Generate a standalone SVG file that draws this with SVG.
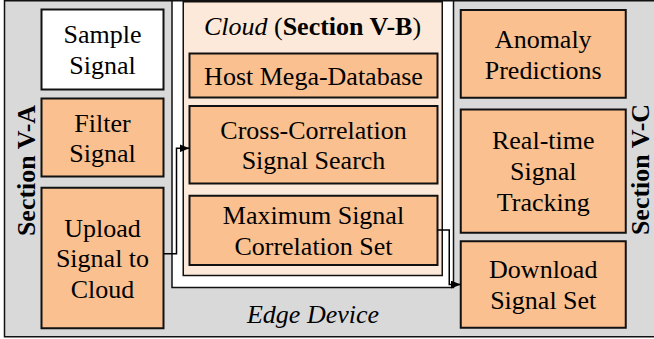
<svg xmlns="http://www.w3.org/2000/svg" width="654" height="339" viewBox="0 0 654 339">
<defs>
<style>
.t{font-family:"Liberation Serif","Times New Roman",serif;font-size:26px;fill:#000;text-anchor:middle}
.box{fill:#fac090;stroke:#111;stroke-width:2}
.panel{stroke:#111;stroke-width:1.5}
.conn{fill:none;stroke:#000;stroke-width:1.5}
</style>
<marker id="ah" markerWidth="10" markerHeight="8" refX="10" refY="4" orient="auto" markerUnits="userSpaceOnUse">
<path d="M0,0 L10,4 L0,8 Z" fill="#000"/>
</marker>
</defs>
<g id="edge-device">
<rect class="panel" x="4.5" y="0.75" width="660" height="336" fill="#d9d9d9"/>
<rect class="panel" x="172" y="0.75" width="281.5" height="286.75" fill="#fff"/>
<text class="t" x="313" y="322.5" font-style="italic">Edge Device</text>
<text class="t" font-weight="bold" transform="translate(35,170.5) rotate(-90)">Section V-A</text>
<text class="t" font-weight="bold" transform="translate(649,169.5) rotate(-90)">Section V-C</text>
</g>
<g id="cloud">
<rect class="panel" x="183.25" y="1.75" width="259" height="273.75" fill="#fde9d9"/>
<text class="t" x="312.5" y="35"><tspan font-style="italic">Cloud</tspan> (<tspan font-weight="bold">Section V-B</tspan>)</text>
</g>
<g id="sample-signal">
<rect x="41.5" y="9.5" width="122" height="80" fill="#fff" stroke="#111" stroke-width="2"/>
<text class="t" x="102.5" y="43.3">Sample</text>
<text class="t" x="102.5" y="74.1">Signal</text>
</g>
<g id="filter-signal">
<rect class="box" x="41.5" y="98.5" width="122" height="78"/>
<text class="t" x="102.5" y="131.5">Filter</text>
<text class="t" x="102.5" y="162.3">Signal</text>
</g>
<g id="upload-signal">
<rect class="box" x="41.5" y="187.75" width="122" height="140.5"/>
<text class="t" x="102.5" y="236.5">Upload</text>
<text class="t" x="102.5" y="267.3">Signal to</text>
<text class="t" x="102.5" y="298.2">Cloud</text>
</g>
<g id="host-mega-database">
<rect class="box" x="189.5" y="53.5" width="248" height="44"/>
<text class="t" x="313.5" y="85">Host Mega-Database</text>
</g>
<g id="cross-correlation">
<rect class="box" x="189.5" y="106" width="248" height="77.5"/>
<text class="t" x="313.5" y="138.5">Cross-Correlation</text>
<text class="t" x="313.5" y="169.3">Signal Search</text>
</g>
<g id="max-correlation-set">
<rect class="box" x="189.5" y="195.75" width="248" height="69.25"/>
<text class="t" x="313.5" y="224.3">Maximum Signal</text>
<text class="t" x="313.5" y="255.1">Correlation Set</text>
</g>
<g id="anomaly-predictions">
<rect class="box" x="460.75" y="10" width="165" height="87.75"/>
<text class="t" x="543.25" y="47.8">Anomaly</text>
<text class="t" x="543.25" y="78.6">Predictions</text>
</g>
<g id="real-time-tracking">
<rect class="box" x="460.75" y="109.5" width="165" height="123.25"/>
<text class="t" x="543.25" y="149.3">Real-time</text>
<text class="t" x="543.25" y="180.2">Signal</text>
<text class="t" x="543.25" y="211.1">Tracking</text>
</g>
<g id="download-signal-set">
<rect class="box" x="460.75" y="241.25" width="165" height="86.5"/>
<text class="t" x="543.25" y="278.3">Download</text>
<text class="t" x="543.25" y="309.1">Signal Set</text>
</g>
<g id="connectors">
<path class="conn" d="M163.5,253.75 H176.5 V148.25 H189.5" marker-end="url(#ah)"/>
<path class="conn" d="M437.5,230 H449.25 V284.5 H460.75" marker-end="url(#ah)"/>
</g>
</svg>
